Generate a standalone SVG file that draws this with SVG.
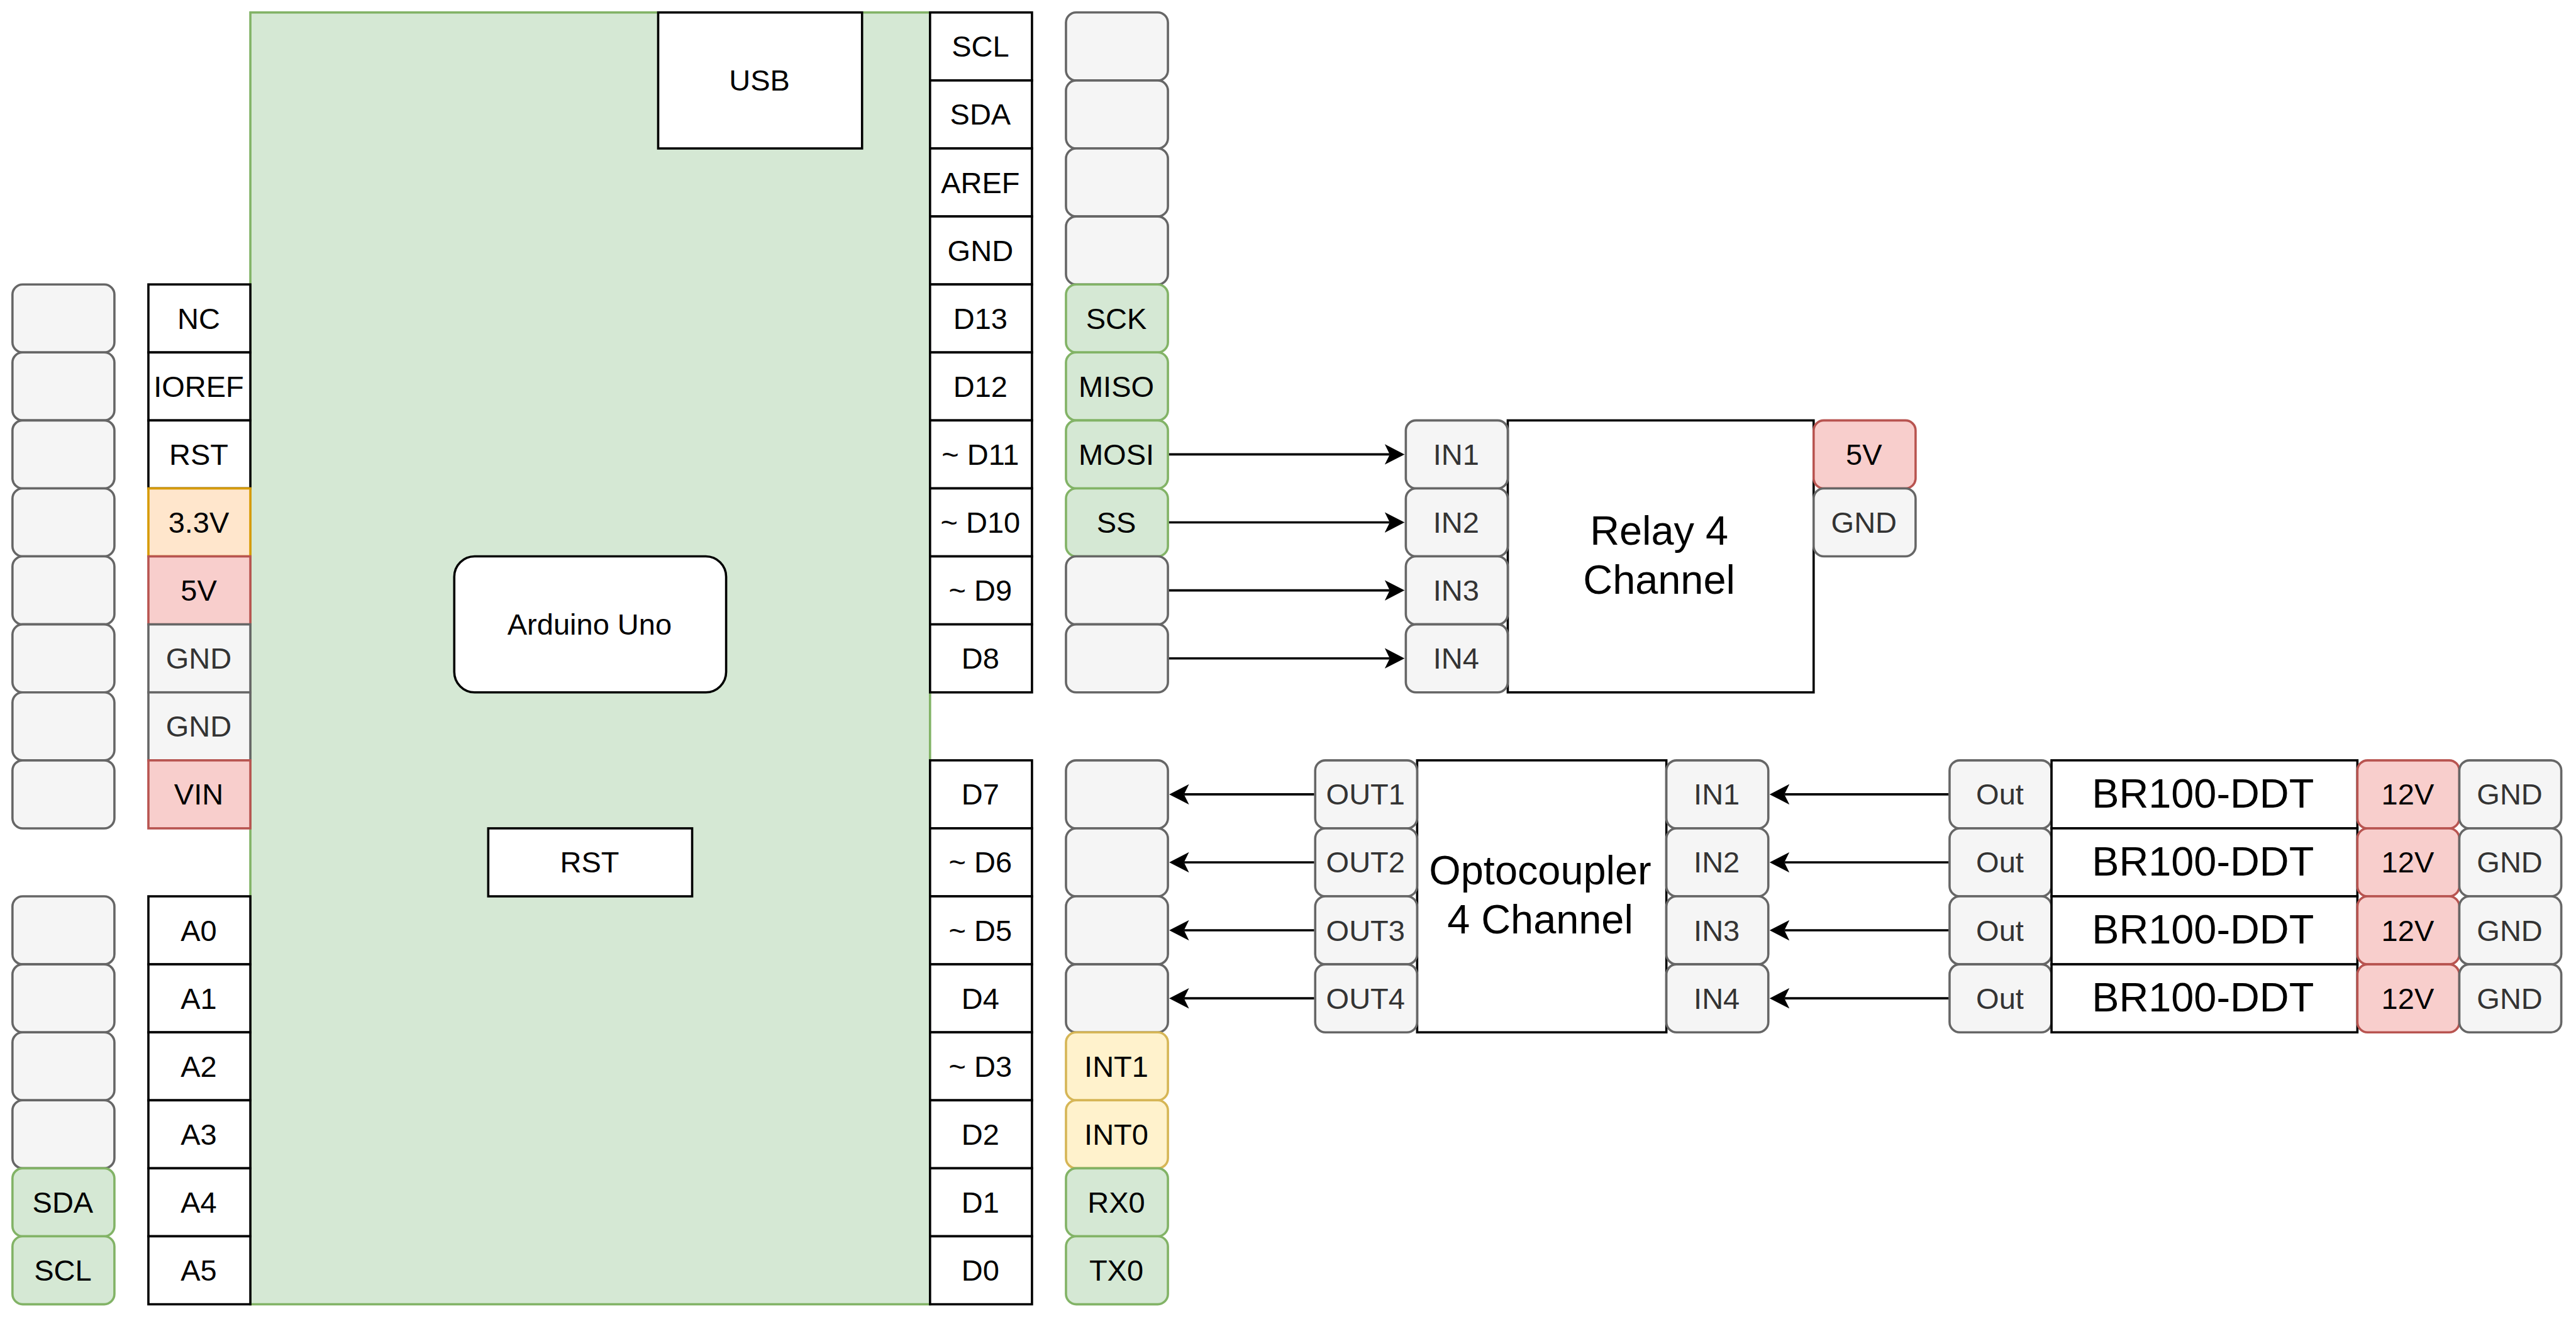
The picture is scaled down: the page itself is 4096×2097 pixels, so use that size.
<svg xmlns="http://www.w3.org/2000/svg" width="4096" height="2097" viewBox="0 0 4096 2097">
<style>
rect{stroke-width:3.6}
.pin{width:162px;height:108px}
.r{rx:16.2px;ry:16.2px}
.k{fill:#fff;stroke:#000}
.g{fill:#d5e8d4;stroke:#82b366}
.e{fill:#f5f5f5;stroke:#666}
.d{fill:#f8cecc;stroke:#b85450}
.y{fill:#fff2cc;stroke:#d6b656}
.o{fill:#ffe6cc;stroke:#d79b00}
text{font-family:"Liberation Sans",Arial,sans-serif;font-size:47px;text-anchor:middle;fill:#000}
text:not(.big){transform:translate(-1px,.8px)}
.t3{fill:#333}
.big{font-size:64.8px;transform:translateX(-2.5px)}
#wires line{stroke:#000;stroke-width:3.6;fill:none;marker-end:url(#arrow)}
</style>
<defs>
<marker id="arrow" markerUnits="userSpaceOnUse" markerWidth="32" markerHeight="33" viewBox="0 0 32 33" refX="8" refY="16.5" orient="auto"><path d="M31.5 16.5 L0 0.3 L8 16.5 L0 32.7 Z" fill="#000"/></marker>
</defs>
<rect width="4096" height="2097" fill="#fff" style="stroke:none"/>
<g transform="scale(1.00069 1.00086) translate(-0.45 -0.45)">
<g id="board"><rect class="g" x="398.25" y="20.25" width="1080" height="2052"/></g>
<g id="usb"><rect class="k" x="1046.25" y="20.25" width="324" height="216"/><text x="1208.25" y="143.9">USB</text></g>
<g id="arduino-uno"><rect class="k" x="722.25" y="884.25" width="432" height="216" rx="32.4" ry="32.4"/><text x="938.25" y="1007.9">Arduino Uno</text></g>
<g id="rst-button"><rect class="k" x="776.25" y="1316.25" width="324" height="108"/><text x="938.25" y="1385.9">RST</text></g>

<g id="l-1"><rect class="pin r e" x="20.25" y="452.25"/></g>
<g id="l-2"><rect class="pin r e" x="20.25" y="560.25"/></g>
<g id="l-3"><rect class="pin r e" x="20.25" y="668.25"/></g>
<g id="l-4"><rect class="pin r e" x="20.25" y="776.25"/></g>
<g id="l-5"><rect class="pin r e" x="20.25" y="884.25"/></g>
<g id="l-6"><rect class="pin r e" x="20.25" y="992.25"/></g>
<g id="l-7"><rect class="pin r e" x="20.25" y="1100.25"/></g>
<g id="l-8"><rect class="pin r e" x="20.25" y="1208.25"/></g>
<g id="l-9"><rect class="pin r e" x="20.25" y="1424.25"/></g>
<g id="l-10"><rect class="pin r e" x="20.25" y="1532.25"/></g>
<g id="l-11"><rect class="pin r e" x="20.25" y="1640.25"/></g>
<g id="l-12"><rect class="pin r e" x="20.25" y="1748.25"/></g>
<g id="l-sda"><rect class="pin r g" x="20.25" y="1856.25"/><text x="101.25" y="1925.9">SDA</text></g>
<g id="l-scl"><rect class="pin r g" x="20.25" y="1964.25"/><text x="101.25" y="2033.9">SCL</text></g>

<g id="p-nc"><rect class="pin k" x="236.25" y="452.25"/><text x="317.25" y="521.9">NC</text></g>
<g id="p-ioref"><rect class="pin k" x="236.25" y="560.25"/><text x="317.25" y="629.9">IOREF</text></g>
<g id="p-rst"><rect class="pin k" x="236.25" y="668.25"/><text x="317.25" y="737.9">RST</text></g>
<g id="p-3v3"><rect class="pin o" x="236.25" y="776.25"/><text x="317.25" y="845.9">3.3V</text></g>
<g id="p-5v"><rect class="pin d" x="236.25" y="884.25"/><text x="317.25" y="953.9">5V</text></g>
<g id="p-gnd1"><rect class="pin e" x="236.25" y="992.25"/><text class="t3" x="317.25" y="1061.9">GND</text></g>
<g id="p-gnd2"><rect class="pin e" x="236.25" y="1100.25"/><text class="t3" x="317.25" y="1169.9">GND</text></g>
<g id="p-vin"><rect class="pin d" x="236.25" y="1208.25"/><text x="317.25" y="1277.9">VIN</text></g>
<g id="p-a0"><rect class="pin k" x="236.25" y="1424.25"/><text x="317.25" y="1493.9">A0</text></g>
<g id="p-a1"><rect class="pin k" x="236.25" y="1532.25"/><text x="317.25" y="1601.9">A1</text></g>
<g id="p-a2"><rect class="pin k" x="236.25" y="1640.25"/><text x="317.25" y="1709.9">A2</text></g>
<g id="p-a3"><rect class="pin k" x="236.25" y="1748.25"/><text x="317.25" y="1817.9">A3</text></g>
<g id="p-a4"><rect class="pin k" x="236.25" y="1856.25"/><text x="317.25" y="1925.9">A4</text></g>
<g id="p-a5"><rect class="pin k" x="236.25" y="1964.25"/><text x="317.25" y="2033.9">A5</text></g>

<g id="p-scl"><rect class="pin k" x="1478.25" y="20.25"/><text x="1559.25" y="89.9">SCL</text></g>
<g id="p-sda"><rect class="pin k" x="1478.25" y="128.25"/><text x="1559.25" y="197.9">SDA</text></g>
<g id="p-aref"><rect class="pin k" x="1478.25" y="236.25"/><text x="1559.25" y="305.9">AREF</text></g>
<g id="p-gnd3"><rect class="pin k" x="1478.25" y="344.25"/><text x="1559.25" y="413.9">GND</text></g>
<g id="p-d13"><rect class="pin k" x="1478.25" y="452.25"/><text x="1559.25" y="521.9">D13</text></g>
<g id="p-d12"><rect class="pin k" x="1478.25" y="560.25"/><text x="1559.25" y="629.9">D12</text></g>
<g id="p-d11"><rect class="pin k" x="1478.25" y="668.25"/><text x="1559.25" y="737.9">~ D11</text></g>
<g id="p-d10"><rect class="pin k" x="1478.25" y="776.25"/><text x="1559.25" y="845.9">~ D10</text></g>
<g id="p-d9"><rect class="pin k" x="1478.25" y="884.25"/><text x="1559.25" y="953.9">~ D9</text></g>
<g id="p-d8"><rect class="pin k" x="1478.25" y="992.25"/><text x="1559.25" y="1061.9">D8</text></g>
<g id="p-d7"><rect class="pin k" x="1478.25" y="1208.25"/><text x="1559.25" y="1277.9">D7</text></g>
<g id="p-d6"><rect class="pin k" x="1478.25" y="1316.25"/><text x="1559.25" y="1385.9">~ D6</text></g>
<g id="p-d5"><rect class="pin k" x="1478.25" y="1424.25"/><text x="1559.25" y="1493.9">~ D5</text></g>
<g id="p-d4"><rect class="pin k" x="1478.25" y="1532.25"/><text x="1559.25" y="1601.9">D4</text></g>
<g id="p-d3"><rect class="pin k" x="1478.25" y="1640.25"/><text x="1559.25" y="1709.9">~ D3</text></g>
<g id="p-d2"><rect class="pin k" x="1478.25" y="1748.25"/><text x="1559.25" y="1817.9">D2</text></g>
<g id="p-d1"><rect class="pin k" x="1478.25" y="1856.25"/><text x="1559.25" y="1925.9">D1</text></g>
<g id="p-d0"><rect class="pin k" x="1478.25" y="1964.25"/><text x="1559.25" y="2033.9">D0</text></g>

<g id="r-1"><rect class="pin r e" x="1694.25" y="20.25"/></g>
<g id="r-2"><rect class="pin r e" x="1694.25" y="128.25"/></g>
<g id="r-3"><rect class="pin r e" x="1694.25" y="236.25"/></g>
<g id="r-4"><rect class="pin r e" x="1694.25" y="344.25"/></g>
<g id="r-sck"><rect class="pin r g" x="1694.25" y="452.25"/><text x="1775.25" y="521.9">SCK</text></g>
<g id="r-miso"><rect class="pin r g" x="1694.25" y="560.25"/><text x="1775.25" y="629.9">MISO</text></g>
<g id="r-mosi"><rect class="pin r g" x="1694.25" y="668.25"/><text x="1775.25" y="737.9">MOSI</text></g>
<g id="r-ss"><rect class="pin r g" x="1694.25" y="776.25"/><text x="1775.25" y="845.9">SS</text></g>
<g id="r-9"><rect class="pin r e" x="1694.25" y="884.25"/></g>
<g id="r-10"><rect class="pin r e" x="1694.25" y="992.25"/></g>
<g id="r-11"><rect class="pin r e" x="1694.25" y="1208.25"/></g>
<g id="r-12"><rect class="pin r e" x="1694.25" y="1316.25"/></g>
<g id="r-13"><rect class="pin r e" x="1694.25" y="1424.25"/></g>
<g id="r-14"><rect class="pin r e" x="1694.25" y="1532.25"/></g>
<g id="r-int1"><rect class="pin r y" x="1694.25" y="1640.25"/><text x="1775.25" y="1709.9">INT1</text></g>
<g id="r-int0"><rect class="pin r y" x="1694.25" y="1748.25"/><text x="1775.25" y="1817.9">INT0</text></g>
<g id="r-rx0"><rect class="pin r g" x="1694.25" y="1856.25"/><text x="1775.25" y="1925.9">RX0</text></g>
<g id="r-tx0"><rect class="pin r g" x="1694.25" y="1964.25"/><text x="1775.25" y="2033.9">TX0</text></g>

<g id="relay"><rect class="k" x="2396.25" y="668.25" width="486" height="432"/><text class="big" x="2639.25" y="866">Relay 4</text><text class="big" x="2639.25" y="944">Channel</text></g>
<g id="relay-in1"><rect class="pin r e" x="2234.25" y="668.25"/><text class="t3" x="2315.25" y="737.9">IN1</text></g>
<g id="relay-in2"><rect class="pin r e" x="2234.25" y="776.25"/><text class="t3" x="2315.25" y="845.9">IN2</text></g>
<g id="relay-in3"><rect class="pin r e" x="2234.25" y="884.25"/><text class="t3" x="2315.25" y="953.9">IN3</text></g>
<g id="relay-in4"><rect class="pin r e" x="2234.25" y="992.25"/><text class="t3" x="2315.25" y="1061.9">IN4</text></g>
<g id="relay-5v"><rect class="pin r d" x="2882.25" y="668.25"/><text x="2963.25" y="737.9">5V</text></g>
<g id="relay-gnd"><rect class="pin r e" x="2882.25" y="776.25"/><text class="t3" x="2963.25" y="845.9">GND</text></g>

<g id="opto"><rect class="k" x="2252.25" y="1208.25" width="396" height="432"/><text class="big" x="2450.25" y="1405">Optocoupler</text><text class="big" x="2450.25" y="1483">4 Channel</text></g>
<g id="opto-out1"><rect class="pin r e" x="2090.25" y="1208.25"/><text class="t3" x="2171.25" y="1277.9">OUT1</text></g>
<g id="opto-out2"><rect class="pin r e" x="2090.25" y="1316.25"/><text class="t3" x="2171.25" y="1385.9">OUT2</text></g>
<g id="opto-out3"><rect class="pin r e" x="2090.25" y="1424.25"/><text class="t3" x="2171.25" y="1493.9">OUT3</text></g>
<g id="opto-out4"><rect class="pin r e" x="2090.25" y="1532.25"/><text class="t3" x="2171.25" y="1601.9">OUT4</text></g>
<g id="opto-in1"><rect class="pin r e" x="2648.25" y="1208.25"/><text class="t3" x="2729.25" y="1277.9">IN1</text></g>
<g id="opto-in2"><rect class="pin r e" x="2648.25" y="1316.25"/><text class="t3" x="2729.25" y="1385.9">IN2</text></g>
<g id="opto-in3"><rect class="pin r e" x="2648.25" y="1424.25"/><text class="t3" x="2729.25" y="1493.9">IN3</text></g>
<g id="opto-in4"><rect class="pin r e" x="2648.25" y="1532.25"/><text class="t3" x="2729.25" y="1601.9">IN4</text></g>

<g id="s1-out"><rect class="pin r e" x="3098.25" y="1208.25"/><text class="t3" x="3179.25" y="1277.9">Out</text></g>
<g id="s2-out"><rect class="pin r e" x="3098.25" y="1316.25"/><text class="t3" x="3179.25" y="1385.9">Out</text></g>
<g id="s3-out"><rect class="pin r e" x="3098.25" y="1424.25"/><text class="t3" x="3179.25" y="1493.9">Out</text></g>
<g id="s4-out"><rect class="pin r e" x="3098.25" y="1532.25"/><text class="t3" x="3179.25" y="1601.9">Out</text></g>
<g id="s1"><rect class="k" x="3260.25" y="1208.25" width="486" height="108"/><text class="big" x="3503.25" y="1283">BR100-DDT</text></g>
<g id="s2"><rect class="k" x="3260.25" y="1316.25" width="486" height="108"/><text class="big" x="3503.25" y="1391">BR100-DDT</text></g>
<g id="s3"><rect class="k" x="3260.25" y="1424.25" width="486" height="108"/><text class="big" x="3503.25" y="1499">BR100-DDT</text></g>
<g id="s4"><rect class="k" x="3260.25" y="1532.25" width="486" height="108"/><text class="big" x="3503.25" y="1607">BR100-DDT</text></g>
<g id="s1-12v"><rect class="pin r d" x="3746.25" y="1208.25"/><text x="3827.25" y="1277.9">12V</text></g>
<g id="s2-12v"><rect class="pin r d" x="3746.25" y="1316.25"/><text x="3827.25" y="1385.9">12V</text></g>
<g id="s3-12v"><rect class="pin r d" x="3746.25" y="1424.25"/><text x="3827.25" y="1493.9">12V</text></g>
<g id="s4-12v"><rect class="pin r d" x="3746.25" y="1532.25"/><text x="3827.25" y="1601.9">12V</text></g>
<g id="s1-gnd"><rect class="pin r e" x="3908.25" y="1208.25"/><text class="t3" x="3989.25" y="1277.9">GND</text></g>
<g id="s2-gnd"><rect class="pin r e" x="3908.25" y="1316.25"/><text class="t3" x="3989.25" y="1385.9">GND</text></g>
<g id="s3-gnd"><rect class="pin r e" x="3908.25" y="1424.25"/><text class="t3" x="3989.25" y="1493.9">GND</text></g>
<g id="s4-gnd"><rect class="pin r e" x="3908.25" y="1532.25"/><text class="t3" x="3989.25" y="1601.9">GND</text></g>

<g id="wires">
<line x1="1858" y1="722.25" x2="2208.75" y2="722.25"/>
<line x1="1858" y1="830.25" x2="2208.75" y2="830.25"/>
<line x1="1858" y1="938.25" x2="2208.75" y2="938.25"/>
<line x1="1858" y1="1046.25" x2="2208.75" y2="1046.25"/>
<line x1="2088.5" y1="1262.25" x2="1881.75" y2="1262.25"/>
<line x1="2088.5" y1="1370.25" x2="1881.75" y2="1370.25"/>
<line x1="2088.5" y1="1478.25" x2="1881.75" y2="1478.25"/>
<line x1="2088.5" y1="1586.25" x2="1881.75" y2="1586.25"/>
<line x1="3096.5" y1="1262.25" x2="2835.75" y2="1262.25"/>
<line x1="3096.5" y1="1370.25" x2="2835.75" y2="1370.25"/>
<line x1="3096.5" y1="1478.25" x2="2835.75" y2="1478.25"/>
<line x1="3096.5" y1="1586.25" x2="2835.75" y2="1586.25"/>
</g>
</g>
</svg>
